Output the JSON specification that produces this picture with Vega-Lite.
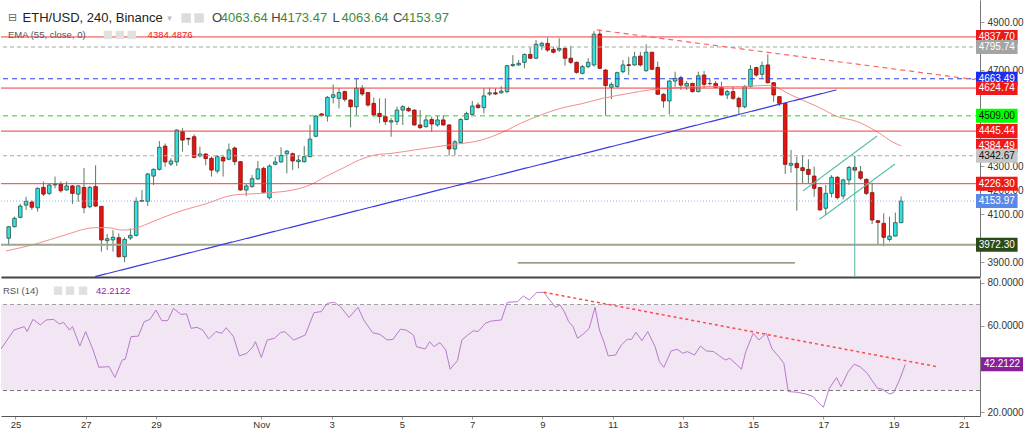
{
"$schema": "https://vega.github.io/schema/vega-lite/v6.json",
"padding": 0,
"spacing": 2,
"bounds": "flush",
"background": "#ffffff",
"config": {"view": {"stroke": null}, "font": "Liberation Sans", "axis": {"labelFont": "Liberation Sans", "grid": false}},
"resolve": {"scale": {"x": "independent", "y": "independent", "color": "independent", "strokeDash": "independent"}},
"datasets": {
"candles": [
{"t":"2021-10-24T16:00","o":3999,"h":4050,"l":3968,"c":4047},
{"t":"2021-10-24T20:00","o":4047,"h":4089,"l":4044,"c":4082},
{"t":"2021-10-25T00:00","o":4086,"h":4142,"l":4082,"c":4133},
{"t":"2021-10-25T04:00","o":4137,"h":4172,"l":4117,"c":4153},
{"t":"2021-10-25T08:00","o":4150,"h":4158,"l":4117,"c":4128},
{"t":"2021-10-25T12:00","o":4126,"h":4211,"l":4110,"c":4207},
{"t":"2021-10-25T16:00","o":4211,"h":4235,"l":4175,"c":4183},
{"t":"2021-10-25T20:00","o":4186,"h":4228,"l":4179,"c":4221},
{"t":"2021-10-26T00:00","o":4221,"h":4256,"l":4207,"c":4224},
{"t":"2021-10-26T04:00","o":4225,"h":4235,"l":4189,"c":4197},
{"t":"2021-10-26T08:00","o":4200,"h":4235,"l":4197,"c":4217},
{"t":"2021-10-26T12:00","o":4217,"h":4221,"l":4142,"c":4186},
{"t":"2021-10-26T16:00","o":4183,"h":4221,"l":4151,"c":4217},
{"t":"2021-10-26T20:00","o":4211,"h":4292,"l":4103,"c":4126},
{"t":"2021-10-27T00:00","o":4130,"h":4217,"l":4124,"c":4211},
{"t":"2021-10-27T04:00","o":4214,"h":4303,"l":4130,"c":4133},
{"t":"2021-10-27T08:00","o":4132,"h":4133,"l":3943,"c":3992},
{"t":"2021-10-27T12:00","o":3989,"h":4017,"l":3950,"c":3997},
{"t":"2021-10-27T16:00","o":3992,"h":4033,"l":3943,"c":4003},
{"t":"2021-10-27T20:00","o":4001,"h":4019,"l":3919,"c":3922},
{"t":"2021-10-28T00:00","o":3922,"h":4003,"l":3899,"c":3994},
{"t":"2021-10-28T04:00","o":4000,"h":4040,"l":3992,"c":4011},
{"t":"2021-10-28T08:00","o":4011,"h":4169,"l":4006,"c":4153},
{"t":"2021-10-28T12:00","o":4153,"h":4200,"l":4151,"c":4156},
{"t":"2021-10-28T16:00","o":4153,"h":4270,"l":4133,"c":4267},
{"t":"2021-10-28T20:00","o":4258,"h":4290,"l":4221,"c":4286},
{"t":"2021-10-29T00:00","o":4286,"h":4404,"l":4281,"c":4378},
{"t":"2021-10-29T04:00","o":4383,"h":4394,"l":4297,"c":4317},
{"t":"2021-10-29T08:00","o":4308,"h":4332,"l":4300,"c":4321},
{"t":"2021-10-29T12:00","o":4317,"h":4453,"l":4300,"c":4450},
{"t":"2021-10-29T16:00","o":4443,"h":4457,"l":4360,"c":4408},
{"t":"2021-10-29T20:00","o":4415,"h":4418,"l":4387,"c":4412},
{"t":"2021-10-30T00:00","o":4422,"h":4432,"l":4332,"c":4336},
{"t":"2021-10-30T04:00","o":4342,"h":4380,"l":4336,"c":4350},
{"t":"2021-10-30T08:00","o":4350,"h":4353,"l":4303,"c":4331},
{"t":"2021-10-30T12:00","o":4332,"h":4339,"l":4256,"c":4283},
{"t":"2021-10-30T16:00","o":4279,"h":4346,"l":4269,"c":4339},
{"t":"2021-10-30T20:00","o":4336,"h":4346,"l":4256,"c":4321},
{"t":"2021-10-31T00:00","o":4328,"h":4394,"l":4325,"c":4367},
{"t":"2021-10-31T04:00","o":4375,"h":4381,"l":4304,"c":4318},
{"t":"2021-10-31T08:00","o":4318,"h":4321,"l":4197,"c":4200},
{"t":"2021-10-31T12:00","o":4200,"h":4225,"l":4175,"c":4217},
{"t":"2021-10-31T16:00","o":4214,"h":4262,"l":4210,"c":4247},
{"t":"2021-10-31T20:00","o":4246,"h":4321,"l":4242,"c":4288},
{"t":"2021-11-01T00:00","o":4290,"h":4297,"l":4189,"c":4190},
{"t":"2021-11-01T04:00","o":4168,"h":4307,"l":4161,"c":4300},
{"t":"2021-11-01T08:00","o":4307,"h":4339,"l":4303,"c":4317},
{"t":"2021-11-01T12:00","o":4317,"h":4378,"l":4314,"c":4344},
{"t":"2021-11-01T16:00","o":4351,"h":4367,"l":4269,"c":4362},
{"t":"2021-11-01T20:00","o":4351,"h":4356,"l":4283,"c":4321},
{"t":"2021-11-02T00:00","o":4318,"h":4343,"l":4290,"c":4325},
{"t":"2021-11-02T04:00","o":4318,"h":4383,"l":4314,"c":4339},
{"t":"2021-11-02T08:00","o":4339,"h":4472,"l":4336,"c":4412},
{"t":"2021-11-02T12:00","o":4424,"h":4512,"l":4420,"c":4508},
{"t":"2021-11-02T16:00","o":4517,"h":4520,"l":4506,"c":4511},
{"t":"2021-11-02T20:00","o":4508,"h":4592,"l":4485,"c":4586},
{"t":"2021-11-03T00:00","o":4586,"h":4640,"l":4561,"c":4597},
{"t":"2021-11-03T04:00","o":4582,"h":4624,"l":4540,"c":4606},
{"t":"2021-11-03T08:00","o":4610,"h":4614,"l":4568,"c":4578},
{"t":"2021-11-03T12:00","o":4575,"h":4578,"l":4461,"c":4547},
{"t":"2021-11-03T16:00","o":4547,"h":4663,"l":4512,"c":4624},
{"t":"2021-11-03T20:00","o":4624,"h":4637,"l":4592,"c":4600},
{"t":"2021-11-04T00:00","o":4606,"h":4607,"l":4547,"c":4554},
{"t":"2021-11-04T04:00","o":4561,"h":4585,"l":4506,"c":4513},
{"t":"2021-11-04T08:00","o":4519,"h":4582,"l":4478,"c":4506},
{"t":"2021-11-04T12:00","o":4506,"h":4582,"l":4471,"c":4485},
{"t":"2021-11-04T16:00","o":4483,"h":4499,"l":4422,"c":4489},
{"t":"2021-11-04T20:00","o":4485,"h":4547,"l":4471,"c":4533},
{"t":"2021-11-05T00:00","o":4533,"h":4554,"l":4471,"c":4547},
{"t":"2021-11-05T04:00","o":4540,"h":4547,"l":4526,"c":4530},
{"t":"2021-11-05T08:00","o":4533,"h":4536,"l":4468,"c":4471},
{"t":"2021-11-05T12:00","o":4471,"h":4533,"l":4454,"c":4460},
{"t":"2021-11-05T16:00","o":4464,"h":4512,"l":4460,"c":4492},
{"t":"2021-11-05T20:00","o":4494,"h":4506,"l":4443,"c":4475},
{"t":"2021-11-06T00:00","o":4471,"h":4510,"l":4464,"c":4492},
{"t":"2021-11-06T04:00","o":4492,"h":4512,"l":4468,"c":4471},
{"t":"2021-11-06T08:00","o":4471,"h":4474,"l":4343,"c":4371},
{"t":"2021-11-06T12:00","o":4371,"h":4408,"l":4346,"c":4401},
{"t":"2021-11-06T16:00","o":4398,"h":4499,"l":4394,"c":4494},
{"t":"2021-11-06T20:00","o":4494,"h":4526,"l":4492,"c":4519},
{"t":"2021-11-07T00:00","o":4515,"h":4571,"l":4512,"c":4550},
{"t":"2021-11-07T04:00","o":4554,"h":4565,"l":4540,"c":4543},
{"t":"2021-11-07T08:00","o":4543,"h":4624,"l":4519,"c":4592},
{"t":"2021-11-07T12:00","o":4600,"h":4626,"l":4592,"c":4605},
{"t":"2021-11-07T16:00","o":4605,"h":4624,"l":4596,"c":4600},
{"t":"2021-11-07T20:00","o":4605,"h":4633,"l":4602,"c":4612},
{"t":"2021-11-08T00:00","o":4610,"h":4721,"l":4603,"c":4718},
{"t":"2021-11-08T04:00","o":4718,"h":4762,"l":4714,"c":4723},
{"t":"2021-11-08T08:00","o":4721,"h":4742,"l":4718,"c":4728},
{"t":"2021-11-08T12:00","o":4732,"h":4769,"l":4707,"c":4765},
{"t":"2021-11-08T16:00","o":4765,"h":4793,"l":4746,"c":4749},
{"t":"2021-11-08T20:00","o":4749,"h":4825,"l":4746,"c":4807},
{"t":"2021-11-09T00:00","o":4801,"h":4818,"l":4783,"c":4811},
{"t":"2021-11-09T04:00","o":4811,"h":4835,"l":4776,"c":4783},
{"t":"2021-11-09T08:00","o":4786,"h":4797,"l":4769,"c":4774},
{"t":"2021-11-09T12:00","o":4783,"h":4832,"l":4776,"c":4790},
{"t":"2021-11-09T16:00","o":4790,"h":4793,"l":4718,"c":4749},
{"t":"2021-11-09T20:00","o":4749,"h":4801,"l":4724,"c":4732},
{"t":"2021-11-10T00:00","o":4732,"h":4735,"l":4685,"c":4690},
{"t":"2021-11-10T04:00","o":4686,"h":4721,"l":4682,"c":4714},
{"t":"2021-11-10T08:00","o":4714,"h":4749,"l":4707,"c":4732},
{"t":"2021-11-10T12:00","o":4721,"h":4862,"l":4714,"c":4849},
{"t":"2021-11-10T16:00","o":4850,"h":4868,"l":4704,"c":4707},
{"t":"2021-11-10T20:00","o":4700,"h":4704,"l":4510,"c":4635},
{"t":"2021-11-11T00:00","o":4628,"h":4649,"l":4579,"c":4640},
{"t":"2021-11-11T04:00","o":4631,"h":4693,"l":4626,"c":4689},
{"t":"2021-11-11T08:00","o":4693,"h":4742,"l":4686,"c":4721},
{"t":"2021-11-11T12:00","o":4722,"h":4755,"l":4679,"c":4719},
{"t":"2021-11-11T16:00","o":4721,"h":4776,"l":4718,"c":4755},
{"t":"2021-11-11T20:00","o":4758,"h":4776,"l":4714,"c":4721},
{"t":"2021-11-12T00:00","o":4697,"h":4807,"l":4693,"c":4774},
{"t":"2021-11-12T04:00","o":4774,"h":4776,"l":4700,"c":4703},
{"t":"2021-11-12T08:00","o":4711,"h":4735,"l":4596,"c":4599},
{"t":"2021-11-12T12:00","o":4599,"h":4603,"l":4543,"c":4571},
{"t":"2021-11-12T16:00","o":4571,"h":4658,"l":4515,"c":4654},
{"t":"2021-11-12T20:00","o":4654,"h":4693,"l":4630,"c":4665},
{"t":"2021-11-13T00:00","o":4668,"h":4676,"l":4617,"c":4637},
{"t":"2021-11-13T04:00","o":4633,"h":4654,"l":4617,"c":4644},
{"t":"2021-11-13T08:00","o":4644,"h":4647,"l":4606,"c":4610},
{"t":"2021-11-13T12:00","o":4610,"h":4693,"l":4607,"c":4676},
{"t":"2021-11-13T16:00","o":4679,"h":4696,"l":4624,"c":4640},
{"t":"2021-11-13T20:00","o":4643,"h":4665,"l":4635,"c":4644},
{"t":"2021-11-14T00:00","o":4644,"h":4654,"l":4624,"c":4628},
{"t":"2021-11-14T04:00","o":4626,"h":4651,"l":4593,"c":4596},
{"t":"2021-11-14T08:00","o":4596,"h":4617,"l":4579,"c":4610},
{"t":"2021-11-14T12:00","o":4610,"h":4633,"l":4575,"c":4582},
{"t":"2021-11-14T16:00","o":4582,"h":4589,"l":4515,"c":4547},
{"t":"2021-11-14T20:00","o":4547,"h":4637,"l":4540,"c":4631},
{"t":"2021-11-15T00:00","o":4631,"h":4721,"l":4628,"c":4703},
{"t":"2021-11-15T04:00","o":4710,"h":4714,"l":4672,"c":4679},
{"t":"2021-11-15T08:00","o":4682,"h":4735,"l":4665,"c":4718},
{"t":"2021-11-15T12:00","o":4721,"h":4765,"l":4644,"c":4647},
{"t":"2021-11-15T16:00","o":4647,"h":4650,"l":4568,"c":4596},
{"t":"2021-11-15T20:00","o":4589,"h":4592,"l":4550,"c":4561},
{"t":"2021-11-16T00:00","o":4561,"h":4564,"l":4267,"c":4307},
{"t":"2021-11-16T04:00","o":4303,"h":4367,"l":4272,"c":4311},
{"t":"2021-11-16T08:00","o":4311,"h":4339,"l":4114,"c":4293},
{"t":"2021-11-16T12:00","o":4293,"h":4346,"l":4228,"c":4281},
{"t":"2021-11-16T16:00","o":4286,"h":4328,"l":4228,"c":4265},
{"t":"2021-11-16T20:00","o":4258,"h":4297,"l":4172,"c":4207},
{"t":"2021-11-17T00:00","o":4210,"h":4214,"l":4114,"c":4117},
{"t":"2021-11-17T04:00","o":4124,"h":4221,"l":4096,"c":4186},
{"t":"2021-11-17T08:00","o":4186,"h":4262,"l":4169,"c":4253},
{"t":"2021-11-17T12:00","o":4253,"h":4258,"l":4161,"c":4168},
{"t":"2021-11-17T16:00","o":4175,"h":4247,"l":4161,"c":4242},
{"t":"2021-11-17T20:00","o":4242,"h":4300,"l":4221,"c":4294},
{"t":"2021-11-18T00:00","o":4294,"h":4342,"l":4276,"c":4283},
{"t":"2021-11-18T04:00","o":4276,"h":4300,"l":4242,"c":4249},
{"t":"2021-11-18T08:00","o":4244,"h":4249,"l":4179,"c":4186},
{"t":"2021-11-18T12:00","o":4189,"h":4231,"l":4058,"c":4075},
{"t":"2021-11-18T16:00","o":4072,"h":4075,"l":3970,"c":4065},
{"t":"2021-11-18T20:00","o":4061,"h":4103,"l":3965,"c":4003},
{"t":"2021-11-19T00:00","o":3994,"h":4089,"l":3985,"c":4008},
{"t":"2021-11-19T04:00","o":4008,"h":4106,"l":4006,"c":4064},
{"t":"2021-11-19T08:00","o":4063.64,"h":4173.47,"l":4063.64,"c":4153.97}
],
"ema": [
{"t":"2021-10-24T14:10","v":3946},{"t":"2021-10-25T10:42","v":3975},{"t":"2021-10-26T07:06","v":4013},{"t":"2021-10-27T03:36","v":4043},
{"t":"2021-10-27T12:30","v":4043},{"t":"2021-10-27T22:06","v":4033},{"t":"2021-10-28T04:54","v":4036},{"t":"2021-10-28T13:48","v":4054},
{"t":"2021-10-29T01:24","v":4083},{"t":"2021-10-29T17:06","v":4117},{"t":"2021-10-30T06:48","v":4140},{"t":"2021-10-31T03:18","v":4179},
{"t":"2021-10-31T21:42","v":4186},{"t":"2021-11-01T20:18","v":4200},{"t":"2021-11-02T07:54","v":4221},{"t":"2021-11-02T18:48","v":4256},
{"t":"2021-11-03T06:24","v":4290},{"t":"2021-11-03T18:00","v":4325},{"t":"2021-11-04T05:00","v":4346},{"t":"2021-11-04T16:36","v":4353},
{"t":"2021-11-05T08:18","v":4367},{"t":"2021-11-06T07:30","v":4387},{"t":"2021-11-07T06:06","v":4408},{"t":"2021-11-07T21:48","v":4443},
{"t":"2021-11-08T09:24","v":4478},{"t":"2021-11-08T23:06","v":4512},{"t":"2021-11-09T12:42","v":4540},{"t":"2021-11-10T02:24","v":4558},
{"t":"2021-11-10T18:06","v":4582},{"t":"2021-11-11T12:36","v":4603},{"t":"2021-11-12T02:12","v":4617},{"t":"2021-11-12T15:54","v":4624},
{"t":"2021-11-13T14:24","v":4631},{"t":"2021-11-14T13:42","v":4631},{"t":"2021-11-15T12:12","v":4636},{"t":"2021-11-15T17:00","v":4630},
{"t":"2021-11-16T04:00","v":4596},{"t":"2021-11-16T22:24","v":4547},{"t":"2021-11-17T12:06","v":4506},{"t":"2021-11-18T01:42","v":4485},
{"t":"2021-11-18T15:24","v":4443},{"t":"2021-11-19T03:00","v":4397},{"t":"2021-11-19T08:00","v":4384.49}
],
"levels": [
{"p":4837.70,"lk":"red","bk":"red"},
{"p":4795.74,"lk":"grey","bk":"grey1"},
{"p":4663.49,"lk":"blue","bk":"blue"},
{"p":4624.74,"lk":"red","bk":"red"},
{"p":4509.00,"lk":"green","bk":"green"},
{"p":4445.44,"lk":"red","bk":"red"},
{"p":4384.49,"lk":"none","bk":"red"},
{"p":4342.67,"lk":"grey","bk":"grey2"},
{"p":4226.30,"lk":"red","bk":"red"},
{"p":4153.97,"lk":"cur","bk":"cur"},
{"p":3972.30,"lk":"olive","bk":"dkgreen"}
],
"trend": [
{"g":"bt","t":"2021-10-27T03:36","p":3839},{"g":"bt","t":"2021-11-17T11:18","p":4617},
{"g":"rt","t":"2021-11-10T14:00","p":4867},{"g":"rt","t":"2021-11-21T11:00","p":4660},
{"g":"cu","t":"2021-11-16T12:12","p":4196},{"g":"cu","t":"2021-11-18T15:24","p":4425},
{"g":"cl","t":"2021-11-16T23:42","p":4078},{"g":"cl","t":"2021-11-19T03:42","p":4308},
{"g":"os","t":"2021-11-08T07:24","p":3896},{"g":"os","t":"2021-11-16T06:42","p":3896}
],
"rsi": [
{"t":"2021-10-24T14:10","v":49.3},{"t":"2021-10-24T23:00","v":58.1},{"t":"2021-10-25T06:00","v":59.7},{"t":"2021-10-25T08:00","v":57.4},
{"t":"2021-10-25T12:00","v":63.1},{"t":"2021-10-25T17:00","v":60.5},{"t":"2021-10-25T21:00","v":62.8},{"t":"2021-10-26T02:00","v":63.1},
{"t":"2021-10-26T06:00","v":61},{"t":"2021-10-26T09:00","v":61.6},{"t":"2021-10-26T13:00","v":58.1},{"t":"2021-10-26T15:00","v":59.7},
{"t":"2021-10-26T20:00","v":50.7},{"t":"2021-10-27T00:00","v":57.4},{"t":"2021-10-27T05:00","v":48.9},{"t":"2021-10-27T09:00","v":40.8},
{"t":"2021-10-27T16:00","v":41.1},{"t":"2021-10-27T20:00","v":36.1},{"t":"2021-10-28T01:00","v":44.2},{"t":"2021-10-28T03:00","v":44.5},
{"t":"2021-10-28T07:00","v":55.05},{"t":"2021-10-28T12:00","v":55.3},{"t":"2021-10-28T16:00","v":62},{"t":"2021-10-28T20:00","v":63.1},
{"t":"2021-10-29T00:00","v":67.4},{"t":"2021-10-29T04:00","v":62.5},{"t":"2021-10-29T08:00","v":62.5},{"t":"2021-10-29T12:00","v":68.2},
{"t":"2021-10-29T17:00","v":65.4},{"t":"2021-10-29T21:00","v":65.6},{"t":"2021-10-30T00:00","v":58.9},{"t":"2021-10-30T04:00","v":59.4},
{"t":"2021-10-30T08:00","v":58.1},{"t":"2021-10-30T12:00","v":54},{"t":"2021-10-30T17:00","v":57.4},{"t":"2021-10-30T21:00","v":56.6},
{"t":"2021-10-31T00:00","v":59.2},{"t":"2021-10-31T05:00","v":55.05},{"t":"2021-10-31T09:00","v":46.1},{"t":"2021-10-31T14:00","v":47.3},
{"t":"2021-10-31T18:00","v":50.1},{"t":"2021-10-31T20:00","v":52.7},{"t":"2021-11-01T00:00","v":45.4},{"t":"2021-11-01T04:00","v":53.5},
{"t":"2021-11-01T09:00","v":54.3},{"t":"2021-11-01T13:00","v":56.9},{"t":"2021-11-01T16:00","v":57.4},{"t":"2021-11-01T22:00","v":53.5},
{"t":"2021-11-02T01:00","v":54.3},{"t":"2021-11-02T06:00","v":55.8},{"t":"2021-11-02T12:00","v":66.2},{"t":"2021-11-02T17:00","v":66.7},
{"t":"2021-11-02T21:00","v":70.55},{"t":"2021-11-03T02:00","v":71},{"t":"2021-11-03T06:00","v":69},{"t":"2021-11-03T12:00","v":64},
{"t":"2021-11-03T18:00","v":68.7},{"t":"2021-11-03T22:00","v":62.8},{"t":"2021-11-04T04:00","v":56.9},{"t":"2021-11-04T09:00","v":56.1},
{"t":"2021-11-04T14:00","v":53.5},{"t":"2021-11-04T18:00","v":53.8},{"t":"2021-11-04T23:00","v":58.5},{"t":"2021-11-05T03:00","v":58.1},
{"t":"2021-11-05T08:00","v":55.8},{"t":"2021-11-05T10:00","v":50.4},{"t":"2021-11-05T16:00","v":49.3},{"t":"2021-11-05T19:00","v":52.7},
{"t":"2021-11-05T22:00","v":50.4},{"t":"2021-11-06T02:00","v":52.3},{"t":"2021-11-06T06:00","v":48.9},{"t":"2021-11-06T09:00","v":39.9},
{"t":"2021-11-06T14:00","v":43.9},{"t":"2021-11-06T17:00","v":53.5},{"t":"2021-11-06T21:00","v":55.8},{"t":"2021-11-07T01:00","v":57.8},
{"t":"2021-11-07T04:00","v":57.4},{"t":"2021-11-07T09:00","v":61.2},{"t":"2021-11-07T13:00","v":62.3},{"t":"2021-11-07T20:00","v":62.8},
{"t":"2021-11-08T00:00","v":71},{"t":"2021-11-08T07:00","v":71.3},{"t":"2021-11-08T11:00","v":74},{"t":"2021-11-08T15:00","v":72.1},
{"t":"2021-11-08T20:00","v":75.5},{"t":"2021-11-09T01:00","v":75.7},{"t":"2021-11-09T05:00","v":72.1},{"t":"2021-11-09T09:00","v":68.7},
{"t":"2021-11-09T12:00","v":69.8},{"t":"2021-11-09T15:00","v":66.7},{"t":"2021-11-09T18:00","v":62},{"t":"2021-11-09T21:00","v":59.7},
{"t":"2021-11-10T00:00","v":54.3},{"t":"2021-11-10T04:00","v":56.3},{"t":"2021-11-10T08:00","v":58.9},{"t":"2021-11-10T12:00","v":68.7},
{"t":"2021-11-10T15:00","v":58.1},{"t":"2021-11-10T18:00","v":52.7},{"t":"2021-11-10T21:00","v":46.1},{"t":"2021-11-11T02:00","v":46.5},
{"t":"2021-11-11T06:00","v":51.2},{"t":"2021-11-11T10:00","v":53.8},{"t":"2021-11-11T13:00","v":53.8},{"t":"2021-11-11T16:00","v":57.1},
{"t":"2021-11-11T20:00","v":53.2},{"t":"2021-11-12T00:00","v":57.4},{"t":"2021-11-12T05:00","v":50.4},{"t":"2021-11-12T08:00","v":43.4},
{"t":"2021-11-12T11:00","v":40.8},{"t":"2021-11-12T16:00","v":48.4},{"t":"2021-11-12T20:00","v":49.2},{"t":"2021-11-13T00:00","v":47.3},
{"t":"2021-11-13T03:00","v":48.1},{"t":"2021-11-13T08:00","v":46.5},{"t":"2021-11-13T12:00","v":50.7},{"t":"2021-11-13T16:00","v":48.4},
{"t":"2021-11-13T21:00","v":48.1},{"t":"2021-11-14T01:00","v":46.1},{"t":"2021-11-14T05:00","v":44.2},{"t":"2021-11-14T08:00","v":45},
{"t":"2021-11-14T13:00","v":41.9},{"t":"2021-11-14T16:00","v":39.9},{"t":"2021-11-14T19:00","v":48.1},{"t":"2021-11-15T00:00","v":56.6},
{"t":"2021-11-15T04:00","v":53.5},{"t":"2021-11-15T09:00","v":56.6},{"t":"2021-11-15T13:00","v":49.3},{"t":"2021-11-15T18:00","v":45.4},
{"t":"2021-11-15T21:00","v":42.6},{"t":"2021-11-16T00:00","v":29.5},{"t":"2021-11-16T06:00","v":29.2},{"t":"2021-11-16T12:00","v":28.4},
{"t":"2021-11-16T17:00","v":27.2},{"t":"2021-11-16T20:00","v":24.8},{"t":"2021-11-17T00:00","v":22.2},{"t":"2021-11-17T04:00","v":31},
{"t":"2021-11-17T09:00","v":36},{"t":"2021-11-17T12:00","v":31.8},{"t":"2021-11-17T17:00","v":38.8},{"t":"2021-11-17T21:00","v":42.2},
{"t":"2021-11-18T01:00","v":41.1},{"t":"2021-11-18T06:00","v":38},{"t":"2021-11-18T09:00","v":34.9},{"t":"2021-11-18T13:00","v":31},
{"t":"2021-11-18T16:00","v":30.7},{"t":"2021-11-18T21:00","v":28.4},{"t":"2021-11-19T00:00","v":29},{"t":"2021-11-19T04:00","v":34.9},
{"t":"2021-11-19T08:00","v":42.2122}
],
"rsitrend": [{"t":"2021-11-09T01:00","v":75.7},{"t":"2021-11-20T05:30","v":41.1}],
"rsilast": [{"v":42.2122}],
"rsiband": [{"hi":70,"lo":30}],
"one": [{}]
},
"vconcat": [
{
"width": 979, "height": 277,
"resolve": {"scale": {"color": "independent", "strokeDash": "independent"}},
"layer": [
{"data": {"name": "candles"}, "mark": {"type": "rule", "color": "#587a62", "strokeWidth": 1},
 "encoding": {
  "x": {"field": "t", "type": "temporal", "title": null,
        "scale": {"domain": [{"year":2021,"month":10,"date":24,"hours":14,"minutes":9},{"year":2021,"month":11,"date":21,"hours":11}], "nice": false},
        "axis": {"labels": false, "ticks": false, "domain": true, "domainColor": "#444", "domainWidth": 2, "grid": false}},
  "y": {"field": "l", "type": "quantitative", "title": null,
        "scale": {"domain": [3837.5, 4991.7], "nice": false, "zero": false},
        "axis": {"orient": "right", "values": [3900,4100,4200,4300,4700,4900], "format": ".2f", "tickSize": 4, "labelPadding": 3, "labelFontSize": 10, "labelColor": "#333", "domainColor": "#777", "tickColor": "#999", "grid": false, "labelOverlap": false}},
  "y2": {"field": "h"}}},
{"data": {"name": "candles"}, "mark": {"type": "bar", "size": 3.6, "strokeWidth": 0.8},
 "encoding": {
  "x": {"field": "t", "type": "temporal", "title": null},
  "y": {"field": "o", "type": "quantitative", "title": null},
  "y2": {"field": "c"},
  "fill": {"condition": {"test": "datum.c >= datum.o", "value": "#2fe0e4"}, "value": "#e5140f"},
  "stroke": {"condition": {"test": "datum.c >= datum.o", "value": "#2c5040"}, "value": "#7d1212"}}},
{"data": {"name": "ema"}, "mark": {"type": "line", "color": "#f68c8c", "strokeWidth": 1, "interpolate": "monotone", "clip": true},
 "encoding": {"x": {"field": "t", "type": "temporal", "title": null}, "y": {"field": "v", "type": "quantitative", "title": null}}},
{"data": {"name": "levels"}, "transform": [{"filter": "datum.lk !== 'none' && datum.lk !== 'olive'"}],
 "mark": {"type": "rule", "strokeWidth": 1},
 "encoding": {
  "y": {"field": "p", "type": "quantitative", "title": null},
  "color": {"field": "lk", "type": "nominal", "legend": null, "scale": {"domain": ["red","grey","blue","green","cur"], "range": ["#f03c3c","#a8a8a8","#2a3de6","#1ed81e","#90abee"]}},
  "strokeDash": {"field": "lk", "type": "nominal", "legend": null, "scale": {"domain": ["red","grey","blue","green","cur"], "range": [[1,0],[4,3],[5,4],[5,4],[1,2]]}}}},
{"data": {"name": "levels"}, "transform": [{"filter": "datum.lk === 'olive'"}],
 "mark": {"type": "rule", "strokeWidth": 2, "color": "#9aa78d"},
 "encoding": {"y": {"field": "p", "type": "quantitative", "title": null}}},
{"data": {"name": "trend"}, "mark": {"type": "line", "strokeWidth": 1.2, "clip": true},
 "encoding": {
  "x": {"field": "t", "type": "temporal", "title": null},
  "y": {"field": "p", "type": "quantitative", "title": null},
  "color": {"field": "g", "type": "nominal", "legend": null, "scale": {"domain": ["bt","rt","cu","cl","os"], "range": ["#3b3be0","#ff6464","#5cbcaa","#5cbcaa","#6d7f5c"]}},
  "strokeDash": {"field": "g", "type": "nominal", "legend": null, "scale": {"domain": ["bt","rt","cu","cl","os"], "range": [[1,0],[5,4],[1,0],[1,0],[1,0]]}}}},
{"data": {"name": "one"}, "mark": {"type": "rule", "color": "#5cb0a2", "strokeWidth": 1},
 "encoding": {"x": {"datum": {"year":2021,"month":11,"date":18}, "type": "temporal"}, "y": {"datum": 4342}, "y2": {"datum": 3837.5}}},
{"data": {"name": "levels"}, "mark": {"type": "rect", "yOffset": -7, "y2Offset": 7},
 "encoding": {
  "x": {"datum": {"year":2021,"month":11,"date":21,"hours":11,"minutes":42}, "type": "temporal"},
  "x2": {"datum": {"year":2021,"month":11,"date":22,"hours":16,"minutes":24}},
  "y": {"field": "p", "type": "quantitative", "title": null},
  "y2": {"field": "p"},
  "color": {"field": "bk", "type": "nominal", "legend": null, "scale": {"domain": ["red","grey1","grey2","blue","green","cur","dkgreen"], "range": ["#f01818","#a4a4a4","#c6c6c6","#1a2ef0","#00ff00","#5a88e8","#2b4a1c"]}}}},
{"data": {"name": "levels"}, "mark": {"type": "text", "fontSize": 10, "align": "center", "baseline": "middle"},
 "encoding": {
  "x": {"datum": {"year":2021,"month":11,"date":22,"hours":2}, "type": "temporal"},
  "y": {"field": "p", "type": "quantitative", "title": null},
  "text": {"field": "p", "format": ".2f"},
  "color": {"condition": {"test": "datum.bk === 'green' || datum.bk === 'grey2'", "value": "#111111"}, "value": "#ffffff"}}},
{"data": {"name": "one"}, "mark": {"type": "point", "shape": "square", "filled": true, "size": 90, "color": "#dcdcdc", "opacity": 1},
 "encoding": {"x": {"datum": {"year":2021,"month":10,"date":29,"hours":18,"minutes":30}, "type": "temporal"}, "y": {"datum": 4916.7}}},
{"data": {"name": "one"}, "mark": {"type": "point", "shape": "square", "filled": true, "size": 90, "color": "#dcdcdc", "opacity": 1},
 "encoding": {"x": {"datum": {"year":2021,"month":10,"date":30,"hours":3,"minutes":24}, "type": "temporal"}, "y": {"datum": 4916.7}}},
{"data": {"name": "one"}, "mark": {"type": "point", "shape": "square", "filled": true, "size": 70, "color": "#e0e0e0", "opacity": 1},
 "encoding": {"x": {"datum": {"year":2021,"month":10,"date":27,"hours":12,"minutes":30}, "type": "temporal"}, "y": {"datum": 4846}}},
{"data": {"name": "one"}, "mark": {"type": "point", "shape": "square", "filled": true, "size": 70, "color": "#e0e0e0", "opacity": 1},
 "encoding": {"x": {"datum": {"year":2021,"month":10,"date":27,"hours":20,"minutes":42}, "type": "temporal"}, "y": {"datum": 4846}}},
{"data": {"name": "one"}, "mark": {"type": "point", "shape": "square", "filled": true, "size": 70, "color": "#e0e0e0", "opacity": 1},
 "encoding": {"x": {"datum": {"year":2021,"month":10,"date":28,"hours":4,"minutes":54}, "type": "temporal"}, "y": {"datum": 4846}}},
{"data": {"name": "one"}, "mark": {"type": "text", "font": "DejaVu Sans", "fontSize": 11, "align": "left", "baseline": "middle", "color": "#666"},
 "encoding": {"text": {"value": "⊟"}, "x": {"datum": {"year":2021,"month":10,"date":24,"hours":15,"minutes":31}, "type": "temporal"}, "y": {"datum": 4916.7}}},
{"data": {"name": "one"}, "mark": {"type": "text", "fontSize": 13, "align": "left", "baseline": "middle", "color": "#222"},
 "encoding": {"text": {"value": "ETH/USD, 240, Binance"}, "x": {"datum": {"year":2021,"month":10,"date":25,"hours":1,"minutes":34}, "type": "temporal"}, "y": {"datum": 4916.7}}},
{"data": {"name": "one"}, "mark": {"type": "text", "font": "DejaVu Sans", "fontSize": 9, "align": "left", "baseline": "middle", "color": "#bbbbbb"},
 "encoding": {"text": {"value": "▾"}, "x": {"datum": {"year":2021,"month":10,"date":29,"hours":5,"minutes":30}, "type": "temporal"}, "y": {"datum": 4916.7}}},
{"data": {"name": "one"}, "mark": {"type": "text", "fontSize": 13, "align": "left", "baseline": "middle", "color": "#444"},
 "encoding": {"text": {"value": "O"}, "x": {"datum": {"year":2021,"month":10,"date":30,"hours":12,"minutes":18}, "type": "temporal"}, "y": {"datum": 4916.7}}},
{"data": {"name": "one"}, "mark": {"type": "text", "fontSize": 13, "align": "left", "baseline": "middle", "color": "#3d8b40"},
 "encoding": {"text": {"value": "4063.64"}, "x": {"datum": {"year":2021,"month":10,"date":30,"hours":18,"minutes":24}, "type": "temporal"}, "y": {"datum": 4916.7}}},
{"data": {"name": "one"}, "mark": {"type": "text", "fontSize": 13, "align": "left", "baseline": "middle", "color": "#444"},
 "encoding": {"text": {"value": "H"}, "x": {"datum": {"year":2021,"month":11,"date":1,"hours":5,"minutes":18}, "type": "temporal"}, "y": {"datum": 4916.7}}},
{"data": {"name": "one"}, "mark": {"type": "text", "fontSize": 13, "align": "left", "baseline": "middle", "color": "#3d8b40"},
 "encoding": {"text": {"value": "4173.47"}, "x": {"datum": {"year":2021,"month":11,"date":1,"hours":11,"minutes":24}, "type": "temporal"}, "y": {"datum": 4916.7}}},
{"data": {"name": "one"}, "mark": {"type": "text", "fontSize": 13, "align": "left", "baseline": "middle", "color": "#444"},
 "encoding": {"text": {"value": "L"}, "x": {"datum": {"year":2021,"month":11,"date":2,"hours":23,"minutes":36}, "type": "temporal"}, "y": {"datum": 4916.7}}},
{"data": {"name": "one"}, "mark": {"type": "text", "fontSize": 13, "align": "left", "baseline": "middle", "color": "#3d8b40"},
 "encoding": {"text": {"value": "4063.64"}, "x": {"datum": {"year":2021,"month":11,"date":3,"hours":5,"minutes":48}, "type": "temporal"}, "y": {"datum": 4916.7}}},
{"data": {"name": "one"}, "mark": {"type": "text", "fontSize": 13, "align": "left", "baseline": "middle", "color": "#444"},
 "encoding": {"text": {"value": "C"}, "x": {"datum": {"year":2021,"month":11,"date":4,"hours":17,"minutes":18}, "type": "temporal"}, "y": {"datum": 4916.7}}},
{"data": {"name": "one"}, "mark": {"type": "text", "fontSize": 13, "align": "left", "baseline": "middle", "color": "#3d8b40"},
 "encoding": {"text": {"value": "4153.97"}, "x": {"datum": {"year":2021,"month":11,"date":4,"hours":23,"minutes":24}, "type": "temporal"}, "y": {"datum": 4916.7}}},
{"data": {"name": "one"}, "mark": {"type": "text", "fontSize": 9.5, "align": "left", "baseline": "middle", "color": "#555"},
 "encoding": {"text": {"value": "EMA (55, close, 0)"}, "x": {"datum": {"year":2021,"month":10,"date":24,"hours":15,"minutes":31}, "type": "temporal"}, "y": {"datum": 4846}}},
{"data": {"name": "one"}, "mark": {"type": "text", "fontSize": 9.5, "align": "left", "baseline": "middle", "color": "#f02020"},
 "encoding": {"text": {"value": "4384.4876"}, "x": {"datum": {"year":2021,"month":10,"date":28,"hours":15,"minutes":54}, "type": "temporal"}, "y": {"datum": 4846}}}
]
},
{
"width": 979, "height": 137,
"layer": [
{"data": {"name": "rsiband"}, "mark": {"type": "rect", "color": "#f2e5f4"},
 "encoding": {
  "x": {"datum": {"year":2021,"month":10,"date":24,"hours":14,"minutes":9}, "type": "temporal"},
  "x2": {"datum": {"year":2021,"month":11,"date":21,"hours":11}},
  "y": {"field": "hi", "type": "quantitative", "title": null}, "y2": {"field": "lo"}}},
{"data": {"name": "rsiband"}, "mark": {"type": "rule", "color": "#a0a0a0", "strokeDash": [4,3]}, "encoding": {"y": {"field": "hi", "type": "quantitative", "title": null}}},
{"data": {"name": "rsiband"}, "mark": {"type": "rule", "color": "#7a7a7a", "strokeDash": [4,3]}, "encoding": {"y": {"field": "lo", "type": "quantitative", "title": null}}},
{"data": {"name": "rsi"}, "mark": {"type": "line", "color": "#b87bcb", "strokeWidth": 1, "clip": true},
 "encoding": {
  "x": {"field": "t", "type": "temporal", "title": null,
        "scale": {"domain": [{"year":2021,"month":10,"date":24,"hours":14,"minutes":9},{"year":2021,"month":11,"date":21,"hours":11}], "nice": false},
        "axis": {"values": [{"year":2021,"month":10,"date":25},{"year":2021,"month":10,"date":27},{"year":2021,"month":10,"date":29},{"year":2021,"month":11,"date":1},{"year":2021,"month":11,"date":3},{"year":2021,"month":11,"date":5},{"year":2021,"month":11,"date":7},{"year":2021,"month":11,"date":9},{"year":2021,"month":11,"date":11},{"year":2021,"month":11,"date":13},{"year":2021,"month":11,"date":15},{"year":2021,"month":11,"date":17},{"year":2021,"month":11,"date":19},{"year":2021,"month":11,"date":21}],
                 "labelExpr": "date(datum.value) == 1 ? timeFormat(datum.value, '%b') : timeFormat(datum.value, '%-d')",
                 "tickSize": 3, "labelPadding": 10, "labelBaseline": "bottom", "labelFontSize": 9.5, "labelColor": "#333", "domainColor": "#555", "tickColor": "#999", "grid": false, "labelOverlap": false, "labelFlush": false}},
  "y": {"field": "v", "type": "quantitative", "title": null,
        "scale": {"domain": [18.14, 81.86], "nice": false, "zero": false},
        "axis": {"orient": "right", "values": [20,60,80], "format": ".4f", "tickSize": 4, "labelPadding": 3, "labelFontSize": 10, "labelColor": "#333", "domainColor": "#777", "tickColor": "#999", "grid": false}}}},
{"data": {"name": "rsitrend"}, "mark": {"type": "line", "color": "#ff4a4a", "strokeWidth": 1.5, "strokeDash": [3,3]},
 "encoding": {"x": {"field": "t", "type": "temporal", "title": null}, "y": {"field": "v", "type": "quantitative", "title": null}}},
{"data": {"name": "rsilast"}, "mark": {"type": "rect", "yOffset": -7, "y2Offset": 7, "color": "#881f99"},
 "encoding": {
  "x": {"datum": {"year":2021,"month":11,"date":21,"hours":11,"minutes":42}, "type": "temporal"},
  "x2": {"datum": {"year":2021,"month":11,"date":22,"hours":16,"minutes":24}},
  "y": {"field": "v", "type": "quantitative", "title": null}, "y2": {"field": "v"}}},
{"data": {"name": "rsilast"}, "mark": {"type": "text", "fontSize": 10, "align": "center", "baseline": "middle", "color": "#ffffff"},
 "encoding": {
  "x": {"datum": {"year":2021,"month":11,"date":22,"hours":2}, "type": "temporal"},
  "y": {"field": "v", "type": "quantitative", "title": null},
  "text": {"field": "v", "format": ".4f"}}},
{"data": {"name": "one"}, "mark": {"type": "point", "shape": "square", "filled": true, "size": 70, "color": "#e0e0e0", "opacity": 1},
 "encoding": {"x": {"datum": {"year":2021,"month":10,"date":26,"hours":5,"minutes":6}, "type": "temporal"}, "y": {"datum": 76.4}}},
{"data": {"name": "one"}, "mark": {"type": "point", "shape": "square", "filled": true, "size": 70, "color": "#e0e0e0", "opacity": 1},
 "encoding": {"x": {"datum": {"year":2021,"month":10,"date":26,"hours":13,"minutes":18}, "type": "temporal"}, "y": {"datum": 76.4}}},
{"data": {"name": "one"}, "mark": {"type": "point", "shape": "square", "filled": true, "size": 70, "color": "#e0e0e0", "opacity": 1},
 "encoding": {"x": {"datum": {"year":2021,"month":10,"date":26,"hours":22,"minutes":12}, "type": "temporal"}, "y": {"datum": 76.4}}},
{"data": {"name": "one"}, "mark": {"type": "text", "fontSize": 9.5, "align": "left", "baseline": "middle", "color": "#555"},
 "encoding": {"text": {"value": "RSI (14)"}, "x": {"datum": {"year":2021,"month":10,"date":24,"hours":15,"minutes":31}, "type": "temporal"}, "y": {"datum": 76.4}}},
{"data": {"name": "one"}, "mark": {"type": "text", "fontSize": 9.5, "align": "left", "baseline": "middle", "color": "#8e24aa"},
 "encoding": {"text": {"value": "42.2122"}, "x": {"datum": {"year":2021,"month":10,"date":27,"hours":7,"minutes":6}, "type": "temporal"}, "y": {"datum": 76.4}}}
]
}
]
}
